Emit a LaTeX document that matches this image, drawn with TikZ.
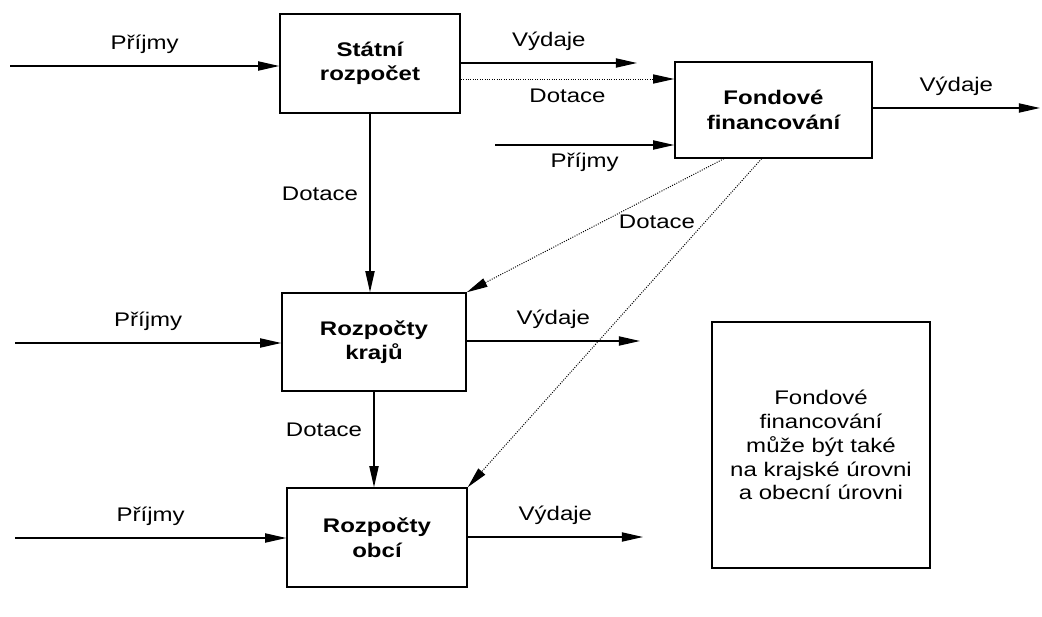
\documentclass[tikz,border=0pt]{standalone}
\usepackage{fontspec}
\setmainfont{Liberation Sans}[FakeStretch=1.22]
\usetikzlibrary{arrows.meta,calc}

\tikzset{
  box/.style={draw, line width=1pt, align=center, font=\fontsize{14}{17.5}\selectfont\bfseries, inner sep=0pt},
  flow/.style={line width=1pt, -{Triangle[length=15pt,width=6.5pt]}},
  dotflow/.style={line width=0.7pt, densely dotted, -{Triangle[length=15pt,width=6.5pt]}},
  lbl/.style={inner sep=2pt}
}

\begin{document}
\begin{tikzpicture}[x=0.025cm, y=-0.025cm, font=\fontsize{14}{17}\selectfont]
        \useasboundingbox (0,0) rectangle (1042,617);

        % budget boxes
        \node[box, minimum width=4.5cm, minimum height=2.475cm] (sr) at (370,63.5) {Státní\\rozpočet};
        \node[box, minimum width=4.925cm, minimum height=2.4cm] (ff) at (773.5,110) {Fondové\\financování};
        \node[box, minimum width=4.6cm, minimum height=2.45cm] (kr) at (374,342) {Rozpočty\\krajů};
        \node[box, minimum width=4.5cm, minimum height=2.475cm] (ob) at (377,537.5) {Rozpočty\\obcí};

        % note box
        \node[draw, line width=1pt, align=center, minimum width=5.45cm, minimum height=6.15cm] (pozn) at (821,445)
          {Fondové\\financování\\může být také\\na krajské úrovni\\a obecní úrovni};

        % free ends
        \coordinate (srIn) at (10,66);
        \coordinate (srOut) at (637,63);
        \coordinate (ffIn) at (495,145);
        \coordinate (ffOut) at (1040,108);
        \coordinate (krIn) at (15,343);
        \coordinate (krOut) at (640,341);
        \coordinate (obIn) at (15,538);
        \coordinate (obOut) at (643,537);

        % state budget
        \draw[flow] (srIn) -- node[lbl, above=6pt] {Příjmy} (sr.west |- srIn);
        \draw[flow] (sr.east |- srOut) -- node[lbl, above=6pt] {Výdaje} (srOut);
        \draw[dotflow] (sr.east |- 0,79) -- node[lbl, below=5pt] {Dotace} (ff.west |- 0,79);
        \draw[flow] (sr) -- node[lbl, left=6pt, pos=0.45] {Dotace} (sr |- kr.north);

        % fund financing
        \draw[flow] (ffIn) -- node[lbl, below=3pt] {Příjmy} (ff.west |- ffIn);
        \draw[flow] (ff.east |- ffOut) -- node[lbl, above=6pt] {Výdaje} (ffOut);
        \draw[dotflow] ($(ff.south west)!0.25!(ff.south east)$) -- (kr.north east);
        \draw[dotflow] ($(ff.south west)!0.44!(ff.south east)$) -- (ob.north east);
        \node[lbl] (dotFF) at (657,222) {Dotace};

        % regions
        \draw[flow] (krIn) -- node[lbl, above=6pt] {Příjmy} (kr.west |- krIn);
        \draw[flow] (kr.east |- krOut) -- node[lbl, above=6pt] {Výdaje} (krOut);
        \draw[flow] (kr) -- node[lbl, left=6pt, pos=0.4] {Dotace} (kr |- ob.north);

        % municipalities
        \draw[flow] (obIn) -- node[lbl, above=6pt] {Příjmy} (ob.west |- obIn);
        \draw[flow] (ob.east |- obOut) -- node[lbl, above=6pt] {Výdaje} (obOut);
    \end{tikzpicture}
\end{document}
